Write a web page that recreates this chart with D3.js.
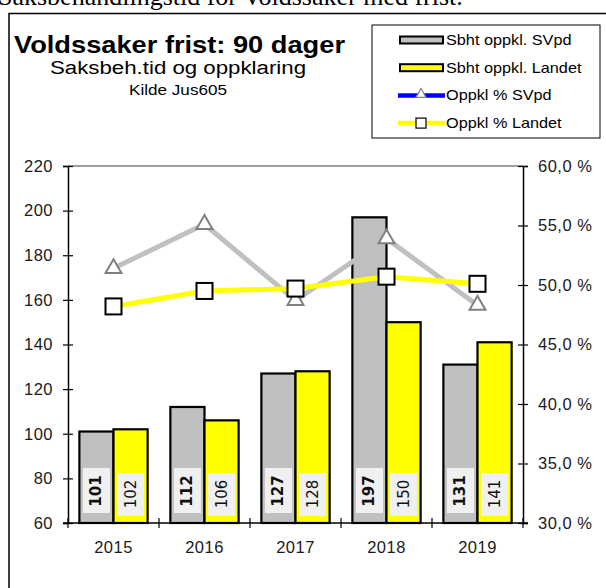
<!DOCTYPE html>
<html>
<head>
<meta charset="utf-8">
<script src="https://cdn.jsdelivr.net/npm/d3@7"></script>
<style>
  body { margin: 0; background: #fff; }
  svg { display: block; }
</style>
</head>
<body>
<svg id="chart" width="606" height="588"></svg>
<script>
// data
const years = ["2015", "2016", "2017", "2018", "2019"];
const sbhtSVpd = [101, 112, 127, 197, 131];     // saksbehandlingstid, SVpd (dager)
const sbhtLandet = [102, 106, 128, 150, 141];   // saksbehandlingstid, landet
const oppklSVpd = [51.4, 55.1, 48.7, 53.9, 48.3];   // oppklaring %, SVpd
const oppklLandet = [48.2, 49.5, 49.7, 50.7, 50.1]; // oppklaring %, landet
const leftTicks = [60, 80, 100, 120, 140, 160, 180, 200, 220];
const rightTicks = [30, 35, 40, 45, 50, 55, 60];

const svg = d3.select("#chart");
const font = "'Liberation Sans', Arial, sans-serif";

// plot area
const plotL = 68, plotR = 523, plotT = 166, plotB = 523;

const x = d3.scaleBand().domain(years).range([plotL, plotR])
    .paddingInner(0.25).paddingOuter(0.125);
const x1 = d3.scaleBand().domain(["svpd", "landet"]).range([0, x.bandwidth()]);
const yL = d3.scaleLinear().domain([60, 220]).range([plotB, plotT]);
const yR = d3.scaleLinear().domain([30, 60]).range([plotB, plotT]);

// the original chart text is a bit stretched sideways
function stretch(sel, w) {
  sel.attr("textLength", w).attr("lengthAdjust", "spacingAndGlyphs");
}

// heading cut off at the top of the screenshot
svg.append("text")
    .attr("x", -2).attr("y", 5)
    .attr("font-family", "'Liberation Serif', 'Times New Roman', serif")
    .attr("font-size", 26)
    .text("Saksbehandlingstid for Voldssaker med frist.");

// outer chart frame
svg.append("rect")
    .attr("x", 9).attr("y", 13.5).attr("width", 620).attr("height", 600)
    .attr("fill", "#fff").attr("stroke", "#000").attr("stroke-width", 1.5);

// titles
svg.append("text").attr("x", 14).attr("y", 53)
    .attr("font-family", font)
    .attr("font-size", 23.5).attr("font-weight", "bold")
    .text("Voldssaker frist: 90 dager")
    .call(stretch, 331);
svg.append("text").attr("x", 50).attr("y", 74)
    .attr("font-family", font)
    .attr("font-size", 18)
    .text("Saksbeh.tid og oppklaring")
    .call(stretch, 256);
svg.append("text").attr("x", 129).attr("y", 95)
    .attr("font-family", font)
    .attr("font-size", 14)
    .text("Kilde Jus605")
    .call(stretch, 98);

// legend
const legend = svg.append("g");
legend.append("rect")
    .attr("x", 372).attr("y", 25).attr("width", 228).attr("height", 113)
    .attr("fill", "#fff").attr("stroke", "#000").attr("stroke-width", 1);

const legendItems = [
  {label: "Sbht oppkl. SVpd", type: "bar", fill: "#c0c0c0"},
  {label: "Sbht oppkl. Landet", type: "bar", fill: "#ffff00"},
  {label: "Oppkl % SVpd", type: "line", stroke: "#0000ff", marker: "triangle"},
  {label: "Oppkl % Landet", type: "line", stroke: "#ffff00", marker: "square"}
];

const triPath = d3.symbol().type(d3.symbolTriangle).size(110);

legendItems.forEach((d, i) => {
  const cy = 40 + i * 27.7;
  if (d.type === "bar") {
    legend.append("rect")
        .attr("x", 400).attr("y", cy - 3.5).attr("width", 43).attr("height", 7)
        .attr("fill", d.fill).attr("stroke", "#000").attr("stroke-width", 2);
  } else {
    legend.append("line")
        .attr("x1", 398).attr("x2", 445).attr("y1", cy).attr("y2", cy)
        .attr("stroke", d.stroke).attr("stroke-width", 4.5);
    if (d.marker === "triangle") {
      legend.append("path")
          .attr("d", d3.symbol().type(d3.symbolTriangle).size(45)())
          .attr("transform", `translate(421,${cy - 1})`)
          .attr("fill", "#fff").attr("stroke", "#808080").attr("stroke-width", 1.2);
    } else {
      legend.append("rect")
          .attr("x", 416).attr("y", cy - 5).attr("width", 10).attr("height", 10)
          .attr("fill", "#fff").attr("stroke", "#000").attr("stroke-width", 1.2);
    }
  }
  const t = legend.append("text")
      .attr("x", 446).attr("y", cy + 5)
      .attr("font-family", font).attr("font-size", 14.5)
      .text(d.label);
  t.call(stretch, t.node().getComputedTextLength() * 1.12);
});

// bars
const groups = svg.append("g").selectAll("g")
    .data(years)
    .join("g")
    .attr("transform", d => `translate(${x(d)},0)`);

const barData = (yr, i) => [
  {key: "svpd", value: sbhtSVpd[i], fill: "#c0c0c0"},
  {key: "landet", value: sbhtLandet[i], fill: "#ffff00"}
];

groups.selectAll("rect.bar")
    .data(barData)
    .join("rect")
    .attr("class", "bar")
    .attr("x", d => x1(d.key))
    .attr("y", d => yL(d.value))
    .attr("width", x1.bandwidth())
    .attr("height", d => plotB - yL(d.value))
    .attr("fill", d => d.fill)
    .attr("stroke", "#000").attr("stroke-width", 2.2);

// value labels inside the bars
groups.selectAll("rect.lblbox")
    .data(barData)
    .join("rect")
    .attr("class", "lblbox")
    .attr("x", d => x1(d.key) + 3.5)
    .attr("y", d => d.key === "svpd" ? plotB - 55 : plotB - 50)
    .attr("width", x1.bandwidth() - 7)
    .attr("height", d => d.key === "svpd" ? 45 : 43)
    .attr("fill", "#f0f0f0");

groups.selectAll("text.lbl")
    .data(barData)
    .join("text")
    .attr("class", "lbl")
    .attr("transform", d => {
      const cx = x1(d.key) + x1.bandwidth() / 2;
      const cy = d.key === "svpd" ? plotB - 32 : plotB - 29;
      return `translate(${cx},${cy}) rotate(-90)`;
    })
    .attr("text-anchor", "middle")
    .attr("dominant-baseline", "central")
    .attr("font-family", "'DejaVu Sans', Verdana, sans-serif")
    .attr("font-size", 15)
    .attr("font-weight", d => d.key === "svpd" ? "bold" : "normal")
    .attr("fill", "#111")
    .text(d => d.value);

// axes
const axisColor = "#000";
svg.append("line")
    .attr("x1", plotL).attr("x2", plotR).attr("y1", plotT).attr("y2", plotT)
    .attr("stroke", "#808080").attr("stroke-width", 1.5);

const gL = svg.append("g")
    .attr("transform", `translate(${plotL},0)`)
    .call(d3.axisLeft(yL).tickValues(leftTicks).tickSize(5).tickPadding(10));
gL.selectAll(".tick line").attr("x1", 5);

const gR = svg.append("g")
    .attr("transform", `translate(${plotR},0)`)
    .call(d3.axisRight(yR).tickValues(rightTicks).tickSize(5).tickPadding(10)
      .tickFormat(d => d3.format(".1f")(d).replace(".", ",") + " %"));
gR.selectAll(".tick line").attr("x1", -5);

const gB = svg.append("g")
    .attr("transform", `translate(0,${plotB})`)
    .call(d3.axisBottom(x).tickSize(0).tickPadding(18));

// category boundary ticks
gB.selectAll("line.sep")
    .data(d3.range(years.length + 1))
    .join("line")
    .attr("class", "sep")
    .attr("x1", i => plotL + i * x.step())
    .attr("x2", i => plotL + i * x.step())
    .attr("y1", -5).attr("y2", 5)
    .attr("stroke", axisColor).attr("stroke-width", 1.2);

[gL, gR, gB].forEach(g => {
  g.select(".domain").attr("stroke", axisColor).attr("stroke-width", 1.5);
  g.selectAll(".tick line").attr("stroke", axisColor).attr("stroke-width", 1.2);
  g.selectAll("text")
      .attr("font-family", font).attr("font-size", 16.5)
      .attr("letter-spacing", 0.5).attr("fill", "#1a1a1a");
});
gB.select(".domain").attr("d", `M${plotL - 5},0H${plotR + 5}`);

// percentage lines
const cx = yr => x(yr) + x.bandwidth() / 2;
const pctLine = d3.line().x((d, i) => cx(years[i])).y(d => yR(d));

svg.append("path")
    .datum(oppklSVpd)
    .attr("d", pctLine)
    .attr("fill", "none").attr("stroke", "#c0c0c0").attr("stroke-width", 5);

svg.append("path")
    .datum(oppklLandet)
    .attr("d", pctLine)
    .attr("fill", "none").attr("stroke", "#ffff00").attr("stroke-width", 5);

svg.append("g").selectAll("path")
    .data(oppklSVpd)
    .join("path")
    .attr("d", triPath)
    .attr("transform", (d, i) => `translate(${cx(years[i])},${yR(d)})`)
    .attr("fill", "#fff").attr("stroke", "#808080").attr("stroke-width", 2);

svg.append("g").selectAll("rect")
    .data(oppklLandet)
    .join("rect")
    .attr("x", (d, i) => cx(years[i]) - 8)
    .attr("y", d => yR(d) - 8)
    .attr("width", 16).attr("height", 16)
    .attr("fill", "#fff").attr("stroke", "#000").attr("stroke-width", 2);
</script>
</body>
</html>
